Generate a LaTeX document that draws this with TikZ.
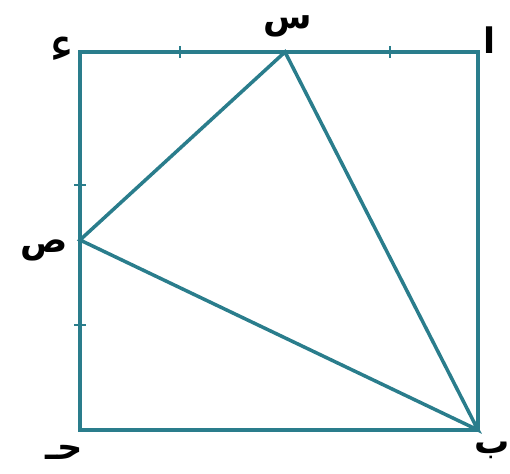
\documentclass[tikz,border=0pt]{standalone}
\usepackage{fontspec}
\newfontfamily\arabicfont[Script=Arabic]{DejaVu Sans}
\TeXXeTstate=1
\usetikzlibrary{positioning, calc}
\definecolor{sqline}{HTML}{2A7D8C}
\tikzset{
  sqedge/.style  = {draw=sqline, line width=2.4pt, line join=miter},
  triedge/.style = {draw=sqline, line width=2pt},
  tickmark/.style= {draw=sqline, line width=1.4pt},
  ptlabel/.style = {font=\arabicfont\bfseries\fontsize{20}{24}\selectfont, text=black, inner sep=1pt},
}

\begin{document}
\begin{tikzpicture}[x=0.02cm, y=-0.02cm]
        \useasboundingbox (0,0) rectangle (510,473);
        % corners and points
        \coordinate (a) at (478,52);
        \coordinate (b) at (478,430);
        \coordinate (c) at (80,430);
        \coordinate (d) at (80,52);
        \coordinate (s) at (285,52);
        \coordinate (p) at (80,240);
        % square
        \draw[sqedge] (a) -- (b) -- (c) -- (d) -- cycle;
        % triangle
        \draw[triedge] (b) -- (s) -- (p) -- cycle;
        % equal marks
        \draw[tickmark] (180,46) -- (180,58);
        \draw[tickmark] (390,46) -- (390,58);
        \draw[tickmark] (74,185) -- (86,185);
        \draw[tickmark] (74,325) -- (86,325);
        % labels
        \node[ptlabel] (la) at (490,40)  {\beginR ا\endR};
        \node[ptlabel] (lb) at (492,450) {\beginR ب\endR};
        \node[ptlabel] (lc) at (64,452)  {\beginR حـ\endR};
        \node[ptlabel, font=\arabicfont\fontsize{30}{34}\selectfont] (ld) at (62,50) {\beginR ء\endR};
        \node[ptlabel] (ls) at (288,26)  {\beginR س\endR};
        \node[ptlabel] (lp) at (44,250)  {\beginR ص\endR};
    \end{tikzpicture}
\end{document}
